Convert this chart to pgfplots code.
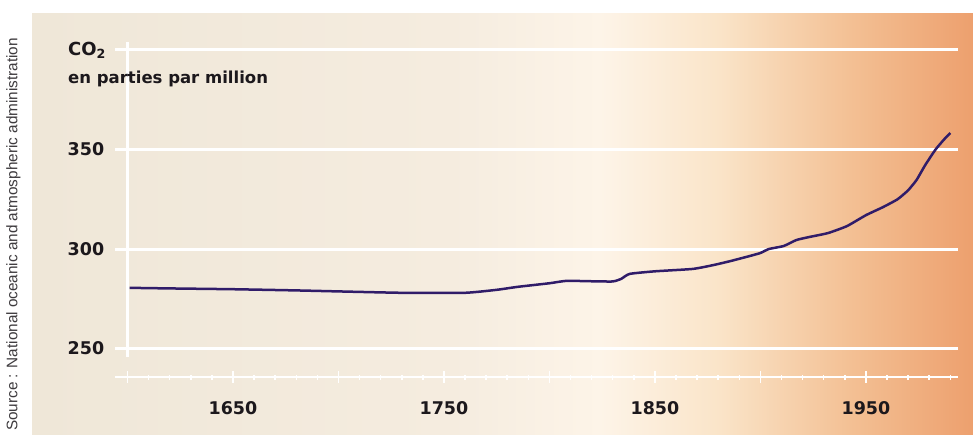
\documentclass[border=0pt]{standalone}
\usepackage{pgfplots}
\pgfplotsset{compat=1.18}
\usepackage{fontspec}
\setmainfont{Liberation Sans}
\newfontfamily\dejabold{DejaVu Sans}
\definecolor{bgA}{RGB}{239,231,216}
\definecolor{bgB}{RGB}{245,236,223}
\definecolor{bgC}{RGB}{253,244,232}
\definecolor{bgD}{RGB}{250,228,200}
\definecolor{bgE}{RGB}{243,192,148}
\definecolor{bgF}{RGB}{237,160,110}
\definecolor{curve}{RGB}{48,28,105}
\definecolor{txt}{RGB}{28,24,28}
\pgfplotstableread{
year co2
1601 280.5
1620 280.2
1650 279.8
1680 279.2
1700 278.7
1730 278.0
1760 278.0
1775 279.5
1785 281.0
1800 282.8
1808 284.0
1820 283.8
1830 283.7
1834 285.0
1838 287.5
1850 288.8
1868 290.0
1878 292.0
1886 294.0
1895 296.5
1900 298.0
1904 300.0
1911 301.5
1917 304.5
1923 306.0
1932 308.0
1941 311.5
1950 317.0
1958 321.0
1965 325.0
1970 329.5
1974 334.7
1978 342.0
1983 350.0
1987 355.0
1990 358.3
}\codata
\begin{document}
\begin{tikzpicture}[x=1pt,y=1pt]
\useasboundingbox (0,0) rectangle (973,434);
\fill[white] (0,0) rectangle (973,434);
% background panel (gradient)
\shade[left color=bgA,right color=bgB] (32,0) rectangle (450.5,420);
\shade[left color=bgB,right color=bgC] (450,0) rectangle (600.5,420);
\shade[left color=bgC,right color=bgD] (600,0) rectangle (720.5,420);
\shade[left color=bgD,right color=bgE] (720,0) rectangle (850.5,420);
\shade[left color=bgE,right color=bgF] (850,0) rectangle (973,420);
% source text
\node[rotate=90,anchor=east,inner sep=0pt,text=txt!85,font=\fontsize{15.3}{17}\selectfont] at (13.5,396)
  {Source : National oceanic and atmospheric administration};
\begin{axis}[
  at={(114.8pt,57pt)}, anchor=south west,
  scale only axis, width=842.9pt, height=335pt,
  xmin=1594, xmax=1993.5, ymin=235.7, ymax=404,
  axis x line*=bottom,
  separate axis lines,
  x axis line style={white, line width=2.5pt, -},
  y axis line style={draw=none},
  /pgf/number format/assume math mode=true,
  ytick={250,300,350,400},
  yticklabels={250,300,350,{}},
  ytick style={draw=none},
  ymajorgrids,
  y grid style={white, line width=3pt},
  xtick={1600,1650,...,1950},
  xticklabels={,1650,,1750,,1850,,1950},
  minor xtick={1600,1610,...,1990},
  x tick style={white, line width=1.5pt},
  tick align=center,
  major tick length=12pt,
  minor tick length=5pt,
  xticklabel style={font=\dejabold\fontsize{17.5}{20}\selectfont\bfseries, text=txt, yshift=-15pt},
  yticklabel style={font=\dejabold\fontsize{17.5}{20}\selectfont\bfseries, text=txt, xshift=-1pt},
  clip=false,
]
\addplot[white, line width=3pt] coordinates {(1600,245.5) (1600,404)};
\addplot[curve, line width=2.5pt, smooth, tension=0.3] table[x=year,y=co2] {\codata};
\end{axis}
\node[anchor=north west,inner sep=0pt,text=txt,font=\dejabold\fontsize{18}{20}\selectfont\bfseries] at (68,434-42) {CO\textsubscript{2}};
\node[anchor=north west,inner sep=0pt,text=txt,font=\dejabold\fontsize{16.5}{20}\selectfont\bfseries] at (68,434-71) {en parties par million};
\end{tikzpicture}
\end{document}
